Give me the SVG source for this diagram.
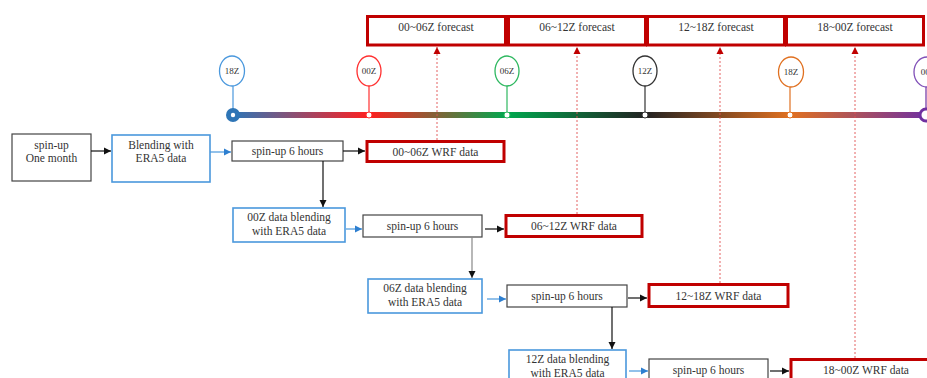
<svg xmlns="http://www.w3.org/2000/svg" width="927" height="378" viewBox="0 0 927 378">
<style>
text{font-family:"Liberation Serif","Times New Roman",serif;fill:#333;text-anchor:middle}
.t{font-size:11.5px}
.s{font-size:9px}
.bk{fill:#fff;stroke:#444;stroke-width:1.2}
.bl{fill:#fff;stroke:#4A98DD;stroke-width:1.6}
.rd{fill:#fff;stroke:#C00000;stroke-width:3}
.c{fill:none;stroke-width:1.2}
.dot{fill:none;stroke:#E05050;stroke-width:0.9;stroke-dasharray:2 2}
</style>
<defs>
<linearGradient id="tl" gradientUnits="userSpaceOnUse" x1="233" y1="0" x2="927" y2="0">
<stop offset="0" stop-color="#2E75B6"/>
<stop offset="0.196" stop-color="#FF2020"/>
<stop offset="0.395" stop-color="#00A84F"/>
<stop offset="0.594" stop-color="#222222"/>
<stop offset="0.803" stop-color="#E07020"/>
<stop offset="1" stop-color="#7030A0"/>
</linearGradient>
<marker id="ab" markerWidth="8" markerHeight="8" refX="7" refY="4" orient="auto" markerUnits="userSpaceOnUse"><path d="M0,0.5 L7,4 L0,7.5 z" fill="#111"/></marker>
<marker id="abl" markerWidth="8" markerHeight="8" refX="7" refY="4" orient="auto" markerUnits="userSpaceOnUse"><path d="M0,0.5 L7,4 L0,7.5 z" fill="#2E7FD0"/></marker>
<marker id="ar" markerWidth="8" markerHeight="8" refX="7" refY="4" orient="auto" markerUnits="userSpaceOnUse"><path d="M0,0.5 L7,4 L0,7.5 z" fill="#C00000"/></marker>
</defs>

<g id="timeline">
<line x1="233" y1="115" x2="927" y2="115" stroke="url(#tl)" stroke-width="6"/>
</g>

<g id="m18a">
<line x1="233" y1="86" x2="233" y2="115" stroke="#4A98DD" stroke-width="1.2"/>
<ellipse cx="232" cy="71" rx="12.5" ry="15" fill="#fff" stroke="#4A98DD" stroke-width="1.3"/>
<text class="s" x="232" y="74">18Z</text>
<circle cx="233" cy="115" r="7" fill="#2E75B6"/>
<circle cx="233" cy="115" r="2.2" fill="#fff"/>
</g>
<g id="m00a">
<line x1="369" y1="86" x2="369" y2="115" stroke="#FF3030" stroke-width="1.2"/>
<ellipse cx="369" cy="71" rx="12" ry="15" fill="#fff" stroke="#FF3030" stroke-width="1.3"/>
<text class="s" x="369" y="74">00Z</text>
<circle cx="369" cy="115" r="3" fill="#fff" stroke="#FF3030" stroke-width="1"/>
</g>
<g id="m06">
<line x1="507" y1="86" x2="507" y2="115" stroke="#2EB860" stroke-width="1.2"/>
<ellipse cx="507" cy="71" rx="12" ry="15" fill="#fff" stroke="#2EB860" stroke-width="1.3"/>
<text class="s" x="507" y="74">06Z</text>
<circle cx="507" cy="115" r="3" fill="#fff" stroke="#2EB860" stroke-width="1"/>
</g>
<g id="m12">
<line x1="645" y1="86" x2="645" y2="115" stroke="#333" stroke-width="1.2"/>
<ellipse cx="645" cy="71" rx="12" ry="15" fill="#fff" stroke="#333" stroke-width="1.3"/>
<text class="s" x="645" y="74">12Z</text>
<circle cx="645" cy="115" r="3" fill="#fff" stroke="#333" stroke-width="1"/>
</g>
<g id="m18b">
<line x1="790" y1="87" x2="790" y2="115" stroke="#E07020" stroke-width="1.2"/>
<ellipse cx="791" cy="72" rx="12.5" ry="15" fill="#fff" stroke="#E07020" stroke-width="1.3"/>
<text class="s" x="791" y="75">18Z</text>
<circle cx="790" cy="115" r="3" fill="#fff" stroke="#E07020" stroke-width="1"/>
</g>
<g id="m00b">
<line x1="926" y1="87" x2="926" y2="115" stroke="#7030A0" stroke-width="1.2"/>
<ellipse cx="927" cy="72" rx="13" ry="15" fill="#fff" stroke="#8050B8" stroke-width="1.3"/>
<text class="s" x="928" y="75">00Z</text>
<circle cx="926" cy="115" r="6" fill="#fff" stroke="#7030A0" stroke-width="3"/>
</g>

<g id="f1"><rect class="rd" x="367.5" y="16.5" width="138" height="28.5"/><text class="t" x="436" y="31">00~06Z forecast</text></g>
<g id="f2"><rect class="rd" x="508.5" y="16.5" width="137" height="28.5"/><text class="t" x="577" y="31">06~12Z forecast</text></g>
<g id="f3"><rect class="rd" x="647.5" y="16.5" width="137" height="28.5"/><text class="t" x="716" y="31">12~18Z forecast</text></g>
<g id="f4"><rect class="rd" x="786.5" y="16.5" width="137" height="28.5"/><text class="t" x="855" y="31">18~00Z forecast</text></g>

<g id="n1"><rect class="bk" x="12" y="134" width="79" height="47"/><text class="t" x="51.5" y="149">spin-up</text><text class="t" x="51.5" y="162">One month</text></g>
<g id="n2"><rect class="bl" x="112" y="135" width="98" height="47"/><text class="t" x="161" y="149">Blending with</text><text class="t" x="161" y="162">ERA5 data</text></g>
<g id="n3"><rect class="bk" x="232" y="141" width="111" height="20"/><text class="t" x="287.5" y="155">spin-up 6 hours</text></g>
<g id="w1"><rect class="rd" x="367" y="141.5" width="137" height="20"/><text class="t" x="435.5" y="155.5">00~06Z WRF data</text></g>

<g id="n4"><rect class="bl" x="233" y="208" width="112" height="34"/><text class="t" x="289" y="221">00Z data blending</text><text class="t" x="289" y="235">with ERA5 data</text></g>
<g id="n5"><rect class="bk" x="363" y="215" width="119" height="22"/><text class="t" x="422.5" y="230">spin-up 6 hours</text></g>
<g id="w2"><rect class="rd" x="506" y="215.5" width="136" height="21"/><text class="t" x="574" y="230">06~12Z WRF data</text></g>

<g id="n6"><rect class="bl" x="368" y="279" width="114" height="34"/><text class="t" x="425" y="292">06Z data blending</text><text class="t" x="425" y="306">with ERA5 data</text></g>
<g id="n7"><rect class="bk" x="507" y="285" width="120" height="22"/><text class="t" x="567" y="300">spin-up 6 hours</text></g>
<g id="w3"><rect class="rd" x="649" y="284.5" width="139" height="22"/><text class="t" x="718.5" y="299.5">12~18Z WRF data</text></g>

<g id="n8"><rect class="bl" x="509" y="350" width="117" height="40"/><text class="t" x="567.5" y="363">12Z data blending</text><text class="t" x="567.5" y="377">with ERA5 data</text></g>
<g id="n9"><rect class="bk" x="649" y="359" width="119" height="30"/><text class="t" x="708.5" y="374">spin-up 6 hours</text></g>
<g id="w4"><rect class="rd" x="791" y="359.5" width="145" height="30"/><text class="t" x="866" y="374">18~00Z WRF data</text></g>

<g id="connectors">
<line class="c" stroke="#111" x1="91" y1="151" x2="111" y2="151" marker-end="url(#ab)"/>
<line class="c" stroke="#4A98DD" x1="210" y1="152" x2="231" y2="152" marker-end="url(#abl)"/>
<line class="c" stroke="#111" x1="343" y1="151" x2="365" y2="151" marker-end="url(#ab)"/>
<line class="c" stroke="#111" x1="323" y1="161" x2="323" y2="207" marker-end="url(#ab)"/>
<line class="c" stroke="#4A98DD" x1="346" y1="229" x2="362" y2="229" marker-end="url(#abl)"/>
<line class="c" stroke="#111" x1="485" y1="229" x2="504" y2="229" marker-end="url(#ab)"/>
<line class="c" stroke="#888" x1="472" y1="237" x2="472" y2="278" marker-end="url(#ab)"/>
<line class="c" stroke="#4A98DD" x1="487" y1="299" x2="506" y2="299" marker-end="url(#abl)"/>
<line class="c" stroke="#111" x1="628" y1="298" x2="647" y2="298" marker-end="url(#ab)"/>
<line class="c" stroke="#111" x1="612" y1="307" x2="612" y2="349" marker-end="url(#ab)"/>
<line class="c" stroke="#4A98DD" x1="629" y1="371" x2="648" y2="371" marker-end="url(#abl)"/>
<line class="c" stroke="#111" x1="770" y1="371" x2="789" y2="371" marker-end="url(#ab)"/>
<line class="dot" x1="437" y1="140" x2="437" y2="47" marker-end="url(#ar)"/>
<line class="dot" x1="577" y1="214" x2="577" y2="47" marker-end="url(#ar)"/>
<line class="dot" x1="720" y1="283" x2="720" y2="47" marker-end="url(#ar)"/>
<line class="dot" x1="855" y1="358" x2="855" y2="47" marker-end="url(#ar)"/>
</g>
</svg>
